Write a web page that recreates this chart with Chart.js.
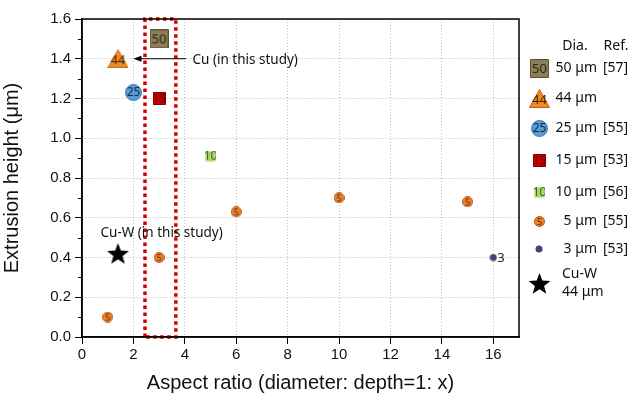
<!DOCTYPE html>
<html>
<head>
<meta charset="utf-8">
<script src="https://cdn.jsdelivr.net/npm/chart.js@4.4.1/dist/chart.umd.min.js"></script>
<style>
  html, body { margin: 0; padding: 0; background: #fff; }
  #wrap { width: 633px; height: 398px; }
</style>
</head>
<body>
<div id="wrap"><canvas id="chart" width="633" height="398"></canvas></div>
<script>
// aspect ratio (x) vs extrusion height in um (y)
const xDia50 = [3],    yDia50 = [1.5];
const xDia44 = [1.4],  yDia44 = [1.4];
const xDia25 = [2],    yDia25 = [1.23];
const xDia15 = [3],    yDia15 = [1.2];
const xDia10 = [5],    yDia10 = [0.91];
const xDia5  = [1, 3, 6, 10, 15];
const yDia5  = [0.1, 0.4, 0.63, 0.7, 0.68];
const xDia3  = [16],   yDia3  = [0.4];
const xCuW   = [1.4],  yCuW   = [0.42];

const legendDia = ['50 μm', '44 μm', '25 μm', '15 μm', '10 μm', '5 μm', '3 μm', 'Cu-W'];
const legendRef = ['[57]', '', '[55]', '[53]', '[56]', '[55]', '[53]', ''];

// red dotted frame around aspect ratio ~3
const boxX = [2.45, 2.45, 3.65, 3.65, 2.45];
const boxY = [0, 1.6, 1.6, 0, 0];

const pts = (xs, ys) => xs.map((x, i) => ({ x: x, y: ys[i] }));

// marker images (shape with the diameter written in it)
function marker(shape, w, h, fill, stroke, label, labelColor, fontPx) {
  const c = document.createElement('canvas');
  c.width = w; c.height = h;
  const g = c.getContext('2d');
  g.fillStyle = fill;
  g.strokeStyle = stroke;
  g.lineWidth = 1;
  g.beginPath();
  if (shape === 'rect') {
    g.rect(0.5, 0.5, w - 1, h - 1);
  } else if (shape === 'circle') {
    g.arc(w / 2, h / 2, w / 2 - 0.5, 0, Math.PI * 2);
  } else if (shape === 'triangle') {
    g.moveTo(w / 2, 0.5);
    g.lineTo(w - 0.5, h - 0.5);
    g.lineTo(0.5, h - 0.5);
    g.closePath();
  } else if (shape === 'star') {
    const r1 = w / 2, r2 = w / 2 * 0.42;
    for (let i = 0; i < 10; i++) {
      const r = i % 2 ? r2 : r1;
      const a = -Math.PI / 2 + i * Math.PI / 5;
      const px = w / 2 + r * Math.cos(a), py = h / 2 + 1 + r * Math.sin(a);
      i ? g.lineTo(px, py) : g.moveTo(px, py);
    }
    g.closePath();
  }
  g.fill();
  if (stroke) g.stroke();
  if (label) {
    g.fillStyle = labelColor;
    g.font = fontPx + 'px "Noto Sans", sans-serif';
    g.textAlign = 'center';
    g.textBaseline = 'middle';
    g.fillText(label, w / 2, shape === 'triangle' ? h * 0.62 : h / 2 + 0.5);
  }
  return c;
}

const mk50  = marker('rect', 19, 19, '#8c7f57', '#5c5232', '50', '#2b2616', 13);
const mk44  = marker('triangle', 21, 19, '#f08a24', '#c86010', '44', '#4a2000', 13);
const mk25  = marker('circle', 17, 17, '#5b9bd5', '#3f7cb8', '25', '#0e2a50', 12);
const mk15  = marker('rect', 13, 13, '#c00000', '#7a0000', '15', '#700000', 11);
const mk10  = marker('rect', 11, 11, '#a8d46a', null, '10', '#3d6b10', 12);
const mk5   = marker('circle', 11, 11, '#e8862a', '#b5541a', '5', '#6a1600', 9);
const mk3   = marker('circle', 8, 8, '#4b3f78', null, '', '', 0);
const mkCuW = marker('star', 23, 23, '#000', null, '', '', 0);
const legendMarks = [mk50, mk44, mk25, mk15, mk10, mk5, mk3, mkCuW];

const frameAndNotes = {
  id: 'frameAndNotes',
  afterDatasetsDraw(chart) {
    const { ctx, chartArea: a, scales: { x, y } } = chart;
    ctx.save();
    // axis frame
    ctx.strokeStyle = '#000';
    ctx.lineWidth = 1.5;
    ctx.strokeRect(a.left, a.top, a.right - a.left, a.bottom - a.top);
    // minor y ticks
    ctx.lineWidth = 1;
    for (let v = 0.1; v < 1.6; v += 0.2) {
      const py = Math.round(y.getPixelForValue(v)) + 0.5;
      ctx.beginPath(); ctx.moveTo(a.left - 4, py); ctx.lineTo(a.left, py); ctx.stroke();
    }
    // arrow to the Cu point
    const ay = y.getPixelForValue(1.4);
    const x0 = x.getPixelForValue(4.05), x1 = x.getPixelForValue(2.0);
    ctx.beginPath(); ctx.moveTo(x0, ay); ctx.lineTo(x1 + 4, ay); ctx.stroke();
    ctx.beginPath();
    ctx.moveTo(x1, ay); ctx.lineTo(x1 + 8, ay - 3); ctx.lineTo(x1 + 8, ay + 3); ctx.closePath();
    ctx.fillStyle = '#000'; ctx.fill();
    ctx.font = '13.5px "Noto Sans", sans-serif';
    ctx.textBaseline = 'middle';
    ctx.textAlign = 'left';
    ctx.fillStyle = '#111';
    ctx.fillText('Cu (in this study)', x.getPixelForValue(4.3), ay + 1);
    ctx.fillText('Cu-W (in this study)', x.getPixelForValue(0.72), y.getPixelForValue(0.52));
    // label next to the 3 um point
    ctx.font = '13px "Noto Sans", sans-serif';
    ctx.fillStyle = '#222';
    ctx.fillText('3', x.getPixelForValue(16) + 4, y.getPixelForValue(0.4) + 1);
    ctx.restore();
  },
  afterDraw(chart) {
    const ctx = chart.ctx;
    const rowY = [68, 98, 128, 160, 192, 221, 249, 283];
    ctx.save();
    ctx.font = '14px "Noto Sans", sans-serif';
    ctx.fillStyle = '#111';
    ctx.textBaseline = 'middle';
    ctx.textAlign = 'center';
    ctx.fillText('Dia.', 575, 46);
    ctx.fillText('Ref.', 616, 46);
    legendMarks.forEach((m, i) => {
      ctx.drawImage(m, Math.round(539 - m.width / 2), Math.round(rowY[i] - m.height / 2));
      if (i === 7) {
        ctx.textAlign = 'left';
        ctx.fillText('Cu-W', 562, 274);
        ctx.fillText('44 μm', 562, 292);
        return;
      }
      ctx.textAlign = 'right';
      ctx.fillText(legendDia[i], 597, rowY[i]);
      ctx.textAlign = 'left';
      if (legendRef[i]) ctx.fillText(legendRef[i], 603, rowY[i]);
    });
    ctx.restore();
  }
};

const gridStyle = {
  color: '#bdbdbd',
  lineWidth: 1,
  tickColor: '#000',
  tickLength: 7,
  tickWidth: 1
};

new Chart(document.getElementById('chart'), {
  type: 'scatter',
  data: {
    datasets: [
      { label: '50 μm', data: pts(xDia50, yDia50), pointStyle: mk50 },
      { label: '44 μm', data: pts(xDia44, yDia44), pointStyle: mk44 },
      { label: '25 μm', data: pts(xDia25, yDia25), pointStyle: mk25 },
      { label: '15 μm', data: pts(xDia15, yDia15), pointStyle: mk15 },
      { label: '10 μm', data: pts(xDia10, yDia10), pointStyle: mk10 },
      { label: '5 μm',  data: pts(xDia5, yDia5),   pointStyle: mk5 },
      { label: '3 μm',  data: pts(xDia3, yDia3),   pointStyle: mk3 },
      { label: 'Cu-W',  data: pts(xCuW, yCuW),     pointStyle: mkCuW },
      {
        type: 'line', label: 'box', data: pts(boxX, boxY), order: 10,
        showLine: true, borderColor: '#d40000', borderWidth: 3.5, borderDash: [3.5, 3.5],
        pointRadius: 0, fill: false, clip: false
      }
    ]
  },
  options: {
    responsive: false,
    animation: false,
    events: [],
    layout: { padding: { left: 0, right: 114, top: 19, bottom: 0 } },
    plugins: { legend: { display: false }, tooltip: { enabled: false } },
    scales: {
      x: {
        type: 'linear', min: 0, max: 17,
        afterFit: s => { s.height = 61; },
        grid: { ...gridStyle },
        border: { display: true, dash: [1, 2], color: '#000', width: 1.5 },
        ticks: { stepSize: 2, includeBounds: false, color: '#111', padding: 2,
                 font: { family: '"Liberation Sans", Arial, sans-serif', size: 15 } },
        title: { display: true, text: 'Aspect ratio (diameter: depth=1: x)', color: '#111',
                 padding: { top: 0, bottom: 3 },
                 font: { family: '"Liberation Sans", Arial, sans-serif', size: 20 } }
      },
      y: {
        min: 0, max: 1.6,
        afterFit: s => { s.width = 82; },
        grid: { ...gridStyle },
        border: { display: true, dash: [1, 2], color: '#000', width: 1.5 },
        ticks: { stepSize: 0.2, color: '#111', padding: 4,
                 callback: v => v.toFixed(1),
                 font: { family: '"Liberation Sans", Arial, sans-serif', size: 15 } },
        title: { display: true, text: 'Extrusion height (μm)', color: '#111',
                 padding: { top: 0, bottom: 0 },
                 font: { family: '"Liberation Sans", Arial, sans-serif', size: 20 } }
      }
    }
  },
  plugins: [frameAndNotes]
});
</script>
</body>
</html>
